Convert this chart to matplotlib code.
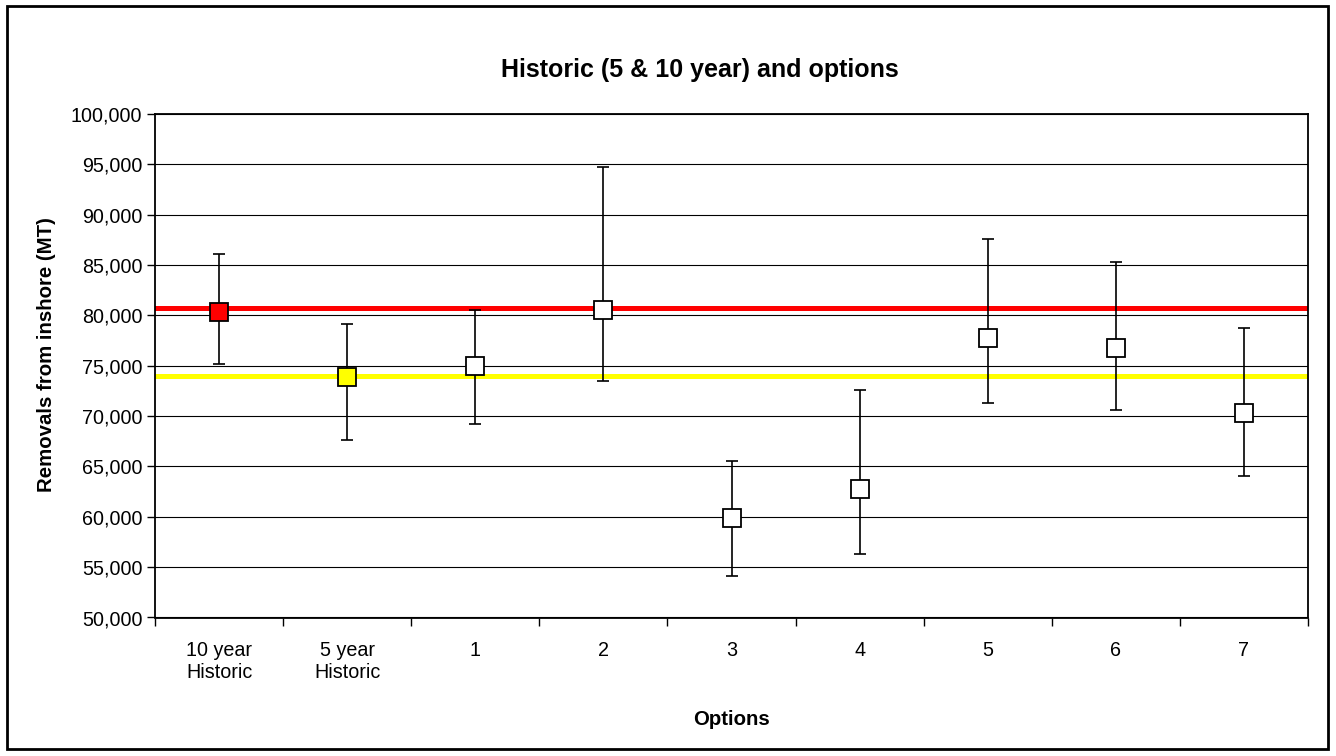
import numpy as np
import matplotlib
matplotlib.use("Agg")
import matplotlib.pyplot as plt
from matplotlib.patches import Rectangle
from matplotlib.ticker import FuncFormatter

plt.rcParams['font.family'] = ['Liberation Sans', 'DejaVu Sans']

# data
categories = ["10 year\nHistoric", "5 year\nHistoric", "1", "2", "3", "4", "5", "6", "7"]
means = [80380, 73930, 74930, 80580, 59870, 62750, 77770, 76800, 70310]
upper = [86070, 79190, 80540, 94700, 65530, 72620, 87630, 85280, 78760]
lower = [75190, 67580, 69210, 73470, 54140, 56330, 71320, 70630, 64100]
face_colors = ["#FF0000", "#FFFF00", "white", "white", "white", "white", "white", "white", "white"]
ref_10yr = 80750
ref_5yr = 74000

fig = plt.figure(figsize=(13.36, 7.56), dpi=100)
ax = fig.add_axes([155/1336, 1-617.5/756, (1308-155)/1336, (617.5-114)/756])

x = np.arange(len(categories))
means = np.array(means)
yerr = [means - np.array(lower), np.array(upper) - means]

# reference lines (historic averages)
ax.axhline(ref_10yr, color="#FF0000", lw=3.6, zorder=2)
ax.axhline(ref_5yr, color="#FFFF00", lw=3.6, zorder=2)

ax.errorbar(x, means, yerr=yerr, fmt="none", ecolor="black", elinewidth=1.2,
            capsize=4, capthick=1.2, zorder=3)
for xi, m, fc in zip(x, means, face_colors):
    ax.plot(xi, m, marker="s", ms=13, mfc=fc, mec="black", mew=1.3, ls="none", zorder=4)

ax.set_xlim(-0.5, len(categories) - 0.5)
ax.set_ylim(50000, 100000)
ax.set_yticks(np.arange(50000, 100001, 5000))
ax.yaxis.set_major_formatter(FuncFormatter(lambda v, p: f"{int(v):,}"))
ax.grid(axis="y", color="black", lw=0.8, zorder=1)
ax.set_axisbelow(True)

# category axis: ticks between categories, labels centred
ax.set_xticks(np.arange(-0.5, len(categories), 1.0))
ax.set_xticklabels([])
ax.set_xticks(x, minor=True)
ax.set_xticklabels(categories, minor=True)
ax.tick_params(axis="x", which="major", direction="out", length=6, width=1)
ax.tick_params(axis="x", which="minor", length=0, pad=17, labelsize=14.2)
ax.tick_params(axis="y", direction="out", length=6, width=1, labelsize=14.2, pad=3)

for s in ax.spines.values():
    s.set_linewidth(1.3)
    s.set_color("black")

fig.text(700/1336, 1 - 70/756, "Historic (5 & 10 year) and options", fontsize=18,
         fontweight="bold", ha="center", va="center")
ax.set_xlabel("Options", fontsize=14.7, fontweight="bold", labelpad=20)
ax.set_ylabel("Removals from inshore (MT)", fontsize=14.7, fontweight="bold")
ax.yaxis.set_label_coords(-(155 - 56) / (1308 - 155), (617.5 - 355) / 503.5)

# outer chart border
fig.patches.append(Rectangle((7/1336, 7/756), 1 - 15/1336, 1 - 13/756, transform=fig.transFigure,
                             fill=False, edgecolor="black", lw=2))

fig.savefig("out.png", dpi=100)
